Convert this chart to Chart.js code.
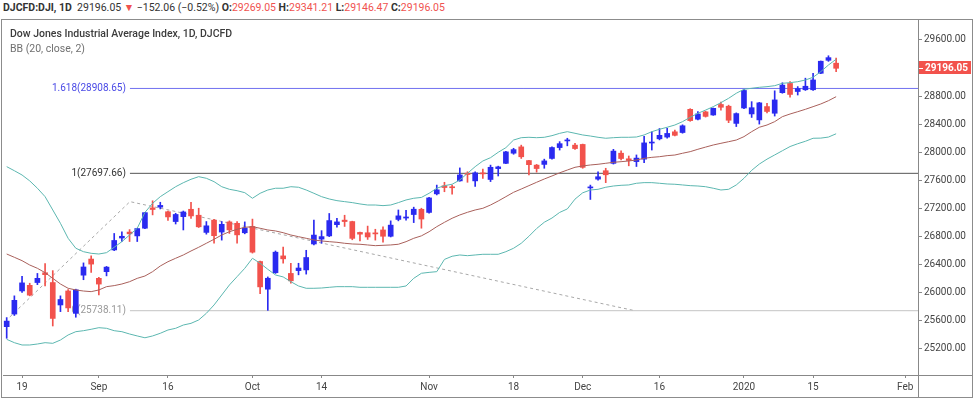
<!DOCTYPE html>
<html>
<head>
<meta charset="utf-8">
<script src="https://cdn.jsdelivr.net/npm/chart.js@4.4.1/dist/chart.umd.min.js"></script>
<style>
  body { margin: 0; background: #fff; }
  #wrap { position: relative; width: 975px; height: 402px; overflow: hidden; font-family: Roboto, sans-serif; }
  #hdr { position: absolute; left: 3px; top: 1px; font-size: 10.5px; color: #333; white-space: nowrap; }
  #hdr b { font-weight: 700; }
  .dn { color: #f0524f; }
  #box { position: absolute; left: 1px; top: 19px; width: 972px; height: 379px; border: 1px solid #8c8c8c; box-sizing: border-box; }
  #title { position: absolute; left: 10px; top: 27px; font-size: 10.5px; font-weight: 500; color: #3c3c3c; }
  #study { position: absolute; left: 10px; top: 42px; font-size: 10.5px; color: #707070; }
  canvas { position: absolute; left: 0; top: 0; }
</style>
</head>
<body>
<div id="wrap">
  <div id="box"></div>
  <div id="hdr"><b>DJCFD:DJI, 1D</b>&nbsp; 29196.05 <span class="dn">▼</span> −152.06 (−0.52%) <b>O:</b><span class="dn">29269.05</span> <b>H:</b><span class="dn">29341.21</span> <b>L:</b><span class="dn">29146.47</span> <b>C:</b><span class="dn">29196.05</span></div>
  <canvas id="chart" width="975" height="402"></canvas>
  <div id="title">Dow Jones Industrial Average Index, 1D, DJCFD</div>
  <div id="study">BB (20, close, 2)</div>
</div>
<script>
// trading days shown (2019-08-15 .. 2020-01-21)
const dates = [
  '2019-08-15','2019-08-16','2019-08-19','2019-08-20','2019-08-21','2019-08-22','2019-08-23','2019-08-26','2019-08-27','2019-08-28','2019-08-29','2019-08-30',
  '2019-09-03','2019-09-04','2019-09-05','2019-09-06','2019-09-09','2019-09-10','2019-09-11','2019-09-12','2019-09-13','2019-09-16','2019-09-17','2019-09-18','2019-09-19','2019-09-20','2019-09-23','2019-09-24','2019-09-25','2019-09-26','2019-09-27','2019-09-30',
  '2019-10-01','2019-10-02','2019-10-03','2019-10-04','2019-10-07','2019-10-08','2019-10-09','2019-10-10','2019-10-11','2019-10-14','2019-10-15','2019-10-16','2019-10-17','2019-10-18','2019-10-21','2019-10-22','2019-10-23','2019-10-24','2019-10-25','2019-10-28','2019-10-29','2019-10-30','2019-10-31',
  '2019-11-01','2019-11-04','2019-11-05','2019-11-06','2019-11-07','2019-11-08','2019-11-11','2019-11-12','2019-11-13','2019-11-14','2019-11-15','2019-11-18','2019-11-19','2019-11-20','2019-11-21','2019-11-22','2019-11-25','2019-11-26','2019-11-27','2019-11-29',
  '2019-12-02','2019-12-03','2019-12-04','2019-12-05','2019-12-06','2019-12-09','2019-12-10','2019-12-11','2019-12-12','2019-12-13','2019-12-16','2019-12-17','2019-12-18','2019-12-19','2019-12-20','2019-12-23','2019-12-24','2019-12-26','2019-12-27','2019-12-30','2019-12-31',
  '2020-01-02','2020-01-03','2020-01-06','2020-01-07','2020-01-08','2020-01-09','2020-01-10','2020-01-13','2020-01-14','2020-01-15','2020-01-16','2020-01-17','2020-01-21'
];

const open = [
  25510,25690,26020,26100,26140,26280,26140,25820,26020,25700,26245,26475,
  26200,26295,26605,26775,26860,26805,26915,27205,27215,27150,27010,27080,27185,27100,26855,27030,26860,27005,26985,26850,
  26940,26440,26045,26280,26520,26270,26310,26320,26690,26760,26805,26965,27030,27010,26855,26850,26845,26890,26800,27040,27060,27110,27185,
  27140,27405,27520,27500,27590,27700,27590,27700,27610,27765,27840,27985,28075,27880,27815,27825,27910,28065,28160,28100,
  28110,27490,27615,27735,27840,27985,27905,27865,27900,28130,28190,28215,28290,28280,28611,28470,28575,28530,28680,28655,28410,
  28630,28545,28460,28650,28555,28848,28980,28865,28890,28890,29125,29310,29269.05
];
const high = [
  25640,25950,26230,26130,26270,26410,26310,25950,26040,26045,26420,26520,
  26215,26370,26840,26865,26895,26915,27140,27306,27285,27160,27128,27160,27285,27200,27010,27040,27010,27020,27010,27005,
  27045,26445,26220,26590,26645,26415,26415,26600,27030,26880,27125,27055,27100,27015,26860,26945,26900,26935,27020,27175,27170,27215,27200,
  27355,27530,27570,27530,27775,27720,27720,27760,27815,27800,28010,28055,28100,27885,27825,27900,28075,28150,28198,28125,
  28115,27530,27720,27770,28040,28020,27945,27960,28225,28290,28337,28340,28316,28390,28620,28580,28585,28630,28715,28670,28560,
  28895,28720,28710,28695,28875,28990,29005,28935,29055,29125,29300,29375,29341.21
];
const low = [
  25345,25670,26000,25950,26110,26090,25520,25725,25725,25645,26180,26285,
  25965,26235,26595,26725,26725,26725,26910,27105,27190,27025,26975,26890,27055,26925,26830,26700,26745,26840,26700,26835,
  26560,25980,25743,26270,26415,26130,26250,26260,26675,26700,26795,26930,26940,26750,26735,26755,26745,26715,26790,27020,27030,26995,26915,
  27130,27390,27435,27400,27585,27570,27510,27625,27580,27660,27835,27970,27910,27675,27715,27770,27900,28030,28090,28040,
  27770,27325,27600,27565,27830,27888,27805,27795,27850,28030,28175,28200,28230,28270,28440,28458,28500,28525,28600,28420,28365,
  28620,28495,28400,28560,28515,28840,28785,28815,28880,28880,29120,29295,29146.47
];
const close = [
  25590,25886,26135,25960,26200,26252,25628,25898,25778,26036,26362,26403,
  26118,26360,26740,26800,26835,26910,27137,27182,27240,27076,27111,27147,27090,26935,26949,26808,26970,26891,26820,26917,
  26573,26078,26201,26573,26478,26164,26347,26497,26817,26795,27024,27005,27010,26770,26830,26790,26834,26800,26959,27091,27075,27186,27046,
  27347,27462,27495,27492,27675,27681,27705,27690,27784,27790,28004,28036,27934,27821,27766,27875,28066,28121,28172,28051,
  27783,27502,27649,27677,28015,27909,27881,27915,28132,28140,28240,28267,28240,28376,28450,28545,28510,28625,28640,28455,28550,
  28880,28634,28703,28580,28745,28956,28823,28907,28940,29030,29297,29348,29196.05
];

// Bollinger Bands (20, close, 2)
const bbUpper = [
  27793,27735,27674,27590,27485,27365,27175,26985,26771,26629,26580,26557,
  26547,26566,26643,26723,26818,26914,27140,27270,27365,27436,27507,27564,27613,27650,27627,27579,27507,27470,27450,27422,
  27342,27413,27460,27485,27485,27507,27499,27460,27413,27365,27332,27308,27294,27280,27261,27246,27246,27237,27246,27280,27318,27342,27354,
  27413,27485,27522,27542,27603,27698,27793,27874,27921,27998,28064,28173,28206,28212,28206,28212,28235,28268,28292,28269,
  28245,28230,28212,28198,28206,28212,28212,28216,28245,28292,28326,28355,28387,28435,28497,28554,28600,28649,28706,28768,28840,
  28897,28911,28925,28934,28948,28982,28991,29005,29029,29068,29148,29243,29325
];
const bbBasis = [
  26547,26500,26452,26390,26343,26281,26200,26119,26058,26034,26019,26010,
  26034,26081,26096,26119,26152,26200,26233,26295,26376,26437,26486,26533,26590,26643,26700,26757,26818,26865,26899,26928,
  26937,26914,26890,26876,26851,26818,26794,26771,26747,26733,26723,26714,26700,26690,26686,26676,26666,26671,26676,26686,26723,26771,26806,
  26865,26937,26999,27057,27104,27142,27175,27199,27246,27303,27365,27427,27474,27522,27570,27617,27660,27705,27745,27784,
  27803,27817,27827,27841,27855,27864,27874,27888,27912,27926,27935,27950,27959,27984,28007,28041,28072,28102,28126,28149,28173,
  28221,28292,28355,28387,28435,28506,28544,28577,28611,28649,28687,28734,28791
];
const bbLower = [
  25330,25282,25249,25249,25263,25282,25273,25320,25392,25439,25453,25473,
  25496,25487,25453,25439,25406,25378,25352,25378,25416,25463,25487,25534,25558,25606,25701,25820,25962,26105,26224,26343,
  26486,26415,26329,26248,26220,26152,26091,26058,26058,26062,26072,26081,26081,26081,26072,26072,26072,26072,26072,26072,26091,26200,26272,
  26285,26295,26470,26515,26533,26523,26533,26543,26543,26543,26580,26629,26700,26800,26910,27000,27060,27140,27190,27330,
  27420,27460,27470,27499,27517,27527,27532,27556,27565,27565,27556,27546,27542,27532,27522,27517,27507,27485,27460,27470,27532,
  27627,27740,27830,27900,27960,28020,28080,28120,28155,28198,28200,28215,28262
];

// trend-based fib extension
const fibNames = ['0', '1', '1.618'];
const fibLevels = [25738.11, 27697.66, 28908.65];
const fibFrom = 16.05;                 // index of the swing-high anchor
const trendIdx = [0.4, 16.05, 81.8];
const trendVal = [25648, 27294, 25738.11];

// axis ticks
const tickIdx = [2, 12, 21, 32, 41, 55, 66, 75, 85, 96, 105, 117];
const tickText = ['19', 'Sep', '16', 'Oct', '14', 'Nov', '18', 'Dec', '16', '2020', '15', 'Feb'];
const yTicks = [25200, 25600, 26000, 26400, 26800, 27200, 27600, 28000, 28400, 28800, 29200, 29600];

const upColor = '#2a2af0';
const downColor = '#f2524c';
const xMin = -0.48, xMax = 118.66;

const candleColors = close.map((c, i) => c >= open[i] ? upColor : downColor);
const series = arr => arr.map((v, i) => ({ x: i, y: v }));

const fibColors = ['#c4c4c4', '#555555', '#7070f0'];
const fibTextColors = ['#9a9a9a', '#333333', '#4a4ae6'];

const fibLabels = {
    id: 'fibLabels',
    beforeDatasetsDraw(chart) {
        const { ctx, scales: { x, y } } = chart;
        ctx.save();
        ctx.font = '10px Roboto';
        ctx.textAlign = 'right';
        ctx.textBaseline = 'middle';
        fibLevels.forEach((lv, i) => {
            ctx.fillStyle = fibTextColors[i];
            ctx.fillText(fibNames[i] + '(' + lv.toFixed(2) + ')', x.getPixelForValue(fibFrom) - 4, y.getPixelForValue(lv));
        });
        ctx.restore();
    }
};

const frame = {
    id: 'frame',
    afterDraw(chart) {
        const { ctx, chartArea: a, scales: { y } } = chart;
        ctx.save();
        // axis lines run on into the price scale corner
        ctx.strokeStyle = '#888';
        ctx.lineWidth = 1;
        ctx.beginPath();
        ctx.moveTo(a.right, a.bottom + 0.5);
        ctx.lineTo(972, a.bottom + 0.5);
        ctx.moveTo(a.right + 0.5, a.bottom);
        ctx.lineTo(a.right + 0.5, 397);
        ctx.stroke();

        // last price marker
        const last = close[close.length - 1];
        const py = Math.round(y.getPixelForValue(last));
        ctx.fillStyle = downColor;
        ctx.fillRect(a.right + 1, py - 7, 52, 13);
        ctx.fillStyle = '#fff';
        ctx.fillRect(a.right + 1, py, 4, 1);
        ctx.font = 'bold 10px Roboto';
        ctx.textBaseline = 'middle';
        ctx.fillText(last.toFixed(2), a.right + 7, py);
        ctx.restore();
    }
};

const ctx = document.getElementById('chart').getContext('2d');
new Chart(ctx, {
    type: 'bar',
    data: {
        datasets: [
            {
                type: 'line', data: trendIdx.map((v, i) => ({ x: v, y: trendVal[i] })),
                borderColor: '#a8a8a8', borderWidth: 1, borderDash: [3, 3], pointRadius: 0, order: 9
            },
            ...fibLevels.map((lv, i) => ({
                type: 'line', data: [{ x: fibFrom, y: lv }, { x: xMax, y: lv }],
                borderColor: fibColors[i], borderWidth: 1, pointRadius: 0, order: 8
            })),
            {
                data: dates.map((d, i) => ({ x: i, y: [low[i], high[i]] })),
                backgroundColor: candleColors, barThickness: 1, grouped: false, order: 5
            },
            {
                data: dates.map((d, i) => ({ x: i, y: [open[i], close[i]] })),
                backgroundColor: candleColors, barThickness: 5, minBarLength: 1, grouped: false, order: 4
            },
            { type: 'line', data: series(bbBasis), borderColor: '#a9605b', borderWidth: 1, pointRadius: 0, order: 2 },
            { type: 'line', data: series(bbUpper), borderColor: '#5cb7b0', borderWidth: 1, pointRadius: 0, order: 1 },
            { type: 'line', data: series(bbLower), borderColor: '#5cb7b0', borderWidth: 1, pointRadius: 0, order: 1 }
        ]
    },
    options: {
        responsive: false,
        animation: false,
        devicePixelRatio: 1,
        layout: { padding: { left: 3, top: 20, right: 3, bottom: 5 } },
        plugins: { legend: { display: false }, tooltip: { enabled: false } },
        scales: {
            x: {
                type: 'linear',
                min: xMin,
                max: xMax,
                offset: false,
                grid: { drawOnChartArea: false, tickLength: 3, color: '#888', offset: false },
                border: { color: '#888' },
                ticks: {
                    color: '#444',
                    font: { family: 'Roboto', size: 10 },
                    padding: 3,
                    maxRotation: 0,
                    autoSkip: false,
                    callback: v => {
                        const k = tickIdx.indexOf(v);
                        return k >= 0 ? tickText[k] : null;
                    }
                },
                afterBuildTicks: s => { s.ticks = tickIdx.map(v => ({ value: v })); },
                afterFit: s => { s.height = 22; }
            },
            y: {
                type: 'linear',
                position: 'right',
                min: 24821,
                max: 29885,
                grid: { drawOnChartArea: false, tickLength: 4, color: '#888' },
                border: { color: '#888' },
                ticks: {
                    color: '#444',
                    font: { family: 'Roboto', size: 10 },
                    padding: 2,
                    callback: v => v.toFixed(2)
                },
                afterBuildTicks: s => { s.ticks = yTicks.map(v => ({ value: v })); },
                afterFit: s => { s.width = 54; }
            }
        }
    },
    plugins: [fibLabels, frame]
});
</script>
</body>
</html>
